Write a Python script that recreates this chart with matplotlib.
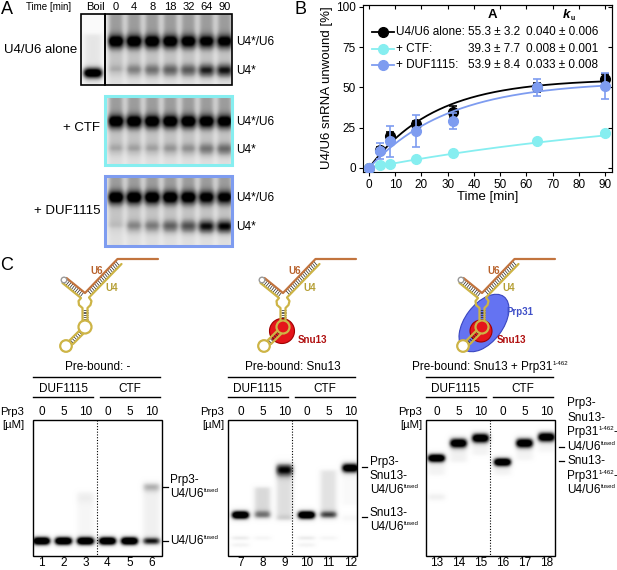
import numpy as np
import matplotlib
matplotlib.use('agg')
import matplotlib.pyplot as plt
from matplotlib.patches import Rectangle, Circle, Ellipse
from matplotlib.collections import LineCollection

plt.rcParams['font.family'] = ['Liberation Sans', 'DejaVu Sans']

# ---------------- panel A : gel band strengths (0 = none, 1 = black)
time_lanes = ['0', '4', '8', '18', '32', '64', '90']
duplex_alone = [0.8, 0.8, 0.8, 0.78, 0.76, 0.72, 0.72]
single_alone = [0.12, 0.28, 0.34, 0.4, 0.43, 0.62, 0.66]
duplex_ctf = [0.8, 0.8, 0.8, 0.8, 0.8, 0.78, 0.76]
single_ctf = [0.14, 0.16, 0.16, 0.2, 0.22, 0.32, 0.36]
duplex_duf = [0.8, 0.8, 0.8, 0.8, 0.78, 0.72, 0.7]
single_duf = [0.06, 0.26, 0.3, 0.4, 0.46, 0.68, 0.72]
boil_single = 1.1

# ---------------- panel B : unwinding time course
time_min = [0, 4, 8, 18, 32, 64, 90]
alone = [0, 11, 20, 27, 35, 50, 55.5]
alone_err = [0, 2, 2.5, 2, 3.5, 3, 3]
ctf = [0, 2, 2.5, 5.5, 9.5, 16.5, 21.5]
ctf_err = [0, 0.5, 0.5, 0.8, 1, 1, 1.5]
duf = [0, 10.5, 16.5, 23, 29, 50, 51]
duf_err = [0, 5, 9.5, 10, 5, 5, 8]
series_names = ['U4/U6 alone:', '+ CTF:', '+ DUF1115:']
fit_A = [55.3, 39.3, 53.9]
fit_A_err = [3.2, 7.7, 8.4]
fit_k = [0.040, 0.008, 0.033]
fit_k_err = [0.006, 0.001, 0.008]

# ---------------- panel C : EMSA gels
prp3_conc = ['0', '5', '10', '0', '5', '10']
# bands: (lane, migration from gel top [px], strength, width)
gel1_bands = [(0, 121, 1.5, 3.0), (1, 121, 1.5, 3.0), (2, 121, 1.5, 3.0), (3, 121, 1.5, 3.0),
              (4, 121, 1.5, 3.0), (5, 121, 0.95, 2.8), (5, 67, 0.3, 3.5), (2, 78, 0.07, 4)]
gel1_smears = [(2, 72, 116, 0.07), (5, 64, 116, 0.12)]
gel2_bands = [(0, 95, 1.5, 3.0), (0, 118, 0.15, 1.5), (0, 125, 0.1, 1.5),
              (1, 95, 0.6, 2.8), (1, 118, 0.08, 1.5),
              (2, 50, 0.8, 4.5), (2, 98, 0.1, 2.5),
              (3, 95, 1.5, 3.0), (3, 118, 0.15, 1.5), (3, 125, 0.1, 1.5),
              (4, 95, 0.65, 2.8), (4, 118, 0.08, 1.5),
              (5, 48, 1.3, 3.5), (5, 98, 0.07, 2.5)]
gel2_smears = [(1, 67, 93, 0.25), (2, 44, 100, 0.22), (4, 50, 96, 0.2), (5, 52, 85, 0.05)]
gel3_bands = [(0, 38, 1.4, 3.0), (0, 77, 0.12, 2.5), (1, 23, 1.3, 3.5), (2, 18, 1.3, 3.5),
              (3, 42, 1.4, 3.0), (4, 23, 1.3, 3.5), (5, 17, 1.3, 3.5)]
gel3_smears = [(0, 38, 55, 0.1), (1, 23, 42, 0.12), (2, 18, 35, 0.1),
               (3, 42, 55, 0.1), (4, 23, 40, 0.1), (5, 17, 32, 0.08)]


def gel_image(x0, y0, w, h, lane_x, bands, smears, base=0.0, bw=8.0, res=3):
    xs = x0 + (np.arange(int(w * res)) + 0.5) / res
    ys = y0 + (np.arange(int(h * res)) + 0.5) / res
    X, Y = np.meshgrid(xs, ys)
    img = np.full(X.shape, base)
    for lane, yc, amp, sig in bands:
        img += amp * np.exp(-((X - lane_x[lane]) / bw) ** 4) * np.exp(-0.5 * ((Y - y0 - yc) / sig) ** 2)
    for lane, ya, yb, amp in smears:
        prof = 0.5 * (np.tanh((Y - y0 - ya) / 2.0) - np.tanh((Y - y0 - yb) / 2.0))
        img += amp * np.exp(-((X - lane_x[lane]) / bw) ** 4) * prof
    return np.clip(img, 0, 1)


fig = plt.figure(figsize=(6.17, 5.70), dpi=100)
cv = fig.add_axes([0, 0, 1, 1])
cv.set_xlim(0, 617)
cv.set_ylim(570, 0)
cv.axis('off')
renderer = fig.canvas.get_renderer()


def seg_text(x, y, segs, fs, ha='left', **kw):
    # segs: list of (string, is_superscript)
    objs = []
    for s, sup in segs:
        f = fs * 0.52 if sup else fs
        objs.append(cv.text(0, y - (3.6 if sup else 0), s, fontsize=f, ha='left', va='center', **kw))
    widths = [o.get_window_extent(renderer).width for o in objs]
    total = sum(widths)
    start = x - total / 2 if ha == 'center' else (x - total if ha == 'right' else x)
    for o, wd in zip(objs, widths):
        o.set_x(start)
        start += wd


# ================= panel A
cv.text(7, 10, 'A', fontsize=13, ha='center', va='center')
cv.text(26, 7, 'Time [min]', fontsize=7, ha='left', va='center')
cv.text(95, 7, 'Boil', fontsize=8, ha='center', va='center')
laneA = [116 + i * 18.1 for i in range(7)]
for x, t in zip(laneA, time_lanes):
    cv.text(x, 7, t, fontsize=8, ha='center', va='center')

gelsA = [(14, 71, duplex_alone, single_alone, 28, 57, 'black', 'U4/U6 alone', 77, 50),
         (96, 69, duplex_ctf, single_ctf, 26, 54, '#86eef0', '+ CTF', 100, 128),
         (176, 70, duplex_duf, single_duf, 22, 51, '#7e9cf0', '+ DUF1115', 100, 211)]
for y0, h, dup, sgl, yd, ys_, col, name, tx, ty in gelsA:
    bands = []
    smears = []
    for i in range(7):
        bands.append((i, yd, dup[i], 4.8))
        bands.append((i, ys_, sgl[i], 4.5))
        smears.append((i, -3, yd, 0.26))
        smears.append((i, yd, ys_, 0.12))
        smears.append((i, -5, h + 5, 0.1))
    img = gel_image(105, y0, 127, h, laneA, bands, smears, base=0.12, bw=8.4)
    cv.imshow(img, cmap='Greys', vmin=0, vmax=1, extent=(105, 232, y0 + h, y0),
              aspect='auto', interpolation='bilinear', zorder=1)
    lw = 1.2 if col == 'black' else 2.2
    cv.add_patch(Rectangle((105, y0), 127, h, fill=False, ec=col, lw=lw, zorder=3))
    cv.text(236, y0 + yd, 'U4*/U6', fontsize=8.5, ha='left', va='center')
    cv.text(236, y0 + ys_, 'U4*', fontsize=8.5, ha='left', va='center')
    cv.text(tx, ty, name, fontsize=9.5, ha='right', va='center')

img = gel_image(81, 14, 24, 71, [93], [(0, 59, boil_single, 3.8)], [(0, 20, 71, 0.14)],
                base=0.04, bw=10)
cv.imshow(img, cmap='Greys', vmin=0, vmax=1, extent=(81, 105, 85, 14),
          aspect='auto', interpolation='bilinear', zorder=1)
cv.add_patch(Rectangle((81, 14), 24, 71, fill=False, ec='black', lw=1.2, zorder=3))

# ================= panel B
cv.text(300, 10, 'B', fontsize=13, ha='center', va='center')
axB = fig.add_axes([363 / 617, (570 - 172) / 570, 249 / 617, 167 / 570])
cols = ['#000000', '#86eef0', '#7e9cf0']
data = [(alone, alone_err), (ctf, ctf_err), (duf, duf_err)]
tt = np.linspace(0, 90, 200)
for j in [1, 0, 2]:
    y, e = data[j]
    axB.plot(tt, fit_A[j] * (1 - np.exp(-fit_k[j] * tt)), color=cols[j], lw=1.3, zorder=2 + j)
    axB.errorbar(time_min, y, yerr=e, fmt='o', color=cols[j], ms=7, lw=1.2,
                 capsize=3, capthick=1.2, zorder=3 + j)
axB.set_xlim(-2.3, 92.7)
axB.set_ylim(-2.5, 101.2)
axB.set_xticks(range(0, 91, 10))
axB.set_yticks([0, 25, 50, 75, 100])
axB.tick_params(labelsize=8.5, length=3, width=0.8, pad=2)
for s in axB.spines.values():
    s.set_linewidth(0.8)
sx = axB.secondary_xaxis('top')
sx.set_xticks(range(0, 91, 10))
sx.tick_params(direction='in', labeltop=False, length=3, width=0.8)
sy = axB.secondary_yaxis('right')
sy.set_yticks([0, 25, 50, 75, 100])
sy.tick_params(direction='in', labelright=False, length=3, width=0.8)

cv.text(488, 197, 'Time [min]', fontsize=9.5, ha='center', va='center')
cv.text(327, 88, 'U4/U6 snRNA unwound [%]', fontsize=9.5, ha='center', va='center', rotation=90)

# legend table
tr = axB.transAxes
rows = [0.838, 0.737, 0.641]
axB.text(0.522, 0.94, 'A', transform=tr, fontsize=9.5, weight='bold', ha='center', va='center')
axB.text(0.818, 0.94, 'k', transform=tr, fontsize=9.5, weight='bold', style='italic', ha='center', va='center')
axB.text(0.835, 0.922, 'u', transform=tr, fontsize=5, weight='bold', ha='left', va='center')
for j in range(3):
    yy = rows[j]
    axB.plot([0.036, 0.124], [yy, yy], color=cols[j], lw=1.3, transform=tr, clip_on=False)
    axB.plot([0.08], [yy], 'o', color=cols[j], ms=7, transform=tr, clip_on=False)
    axB.text(0.133, yy, series_names[j], transform=tr, fontsize=8.5, ha='left', va='center')
    axB.text(0.528, yy, '%.1f ± %.1f' % (fit_A[j], fit_A_err[j]), transform=tr,
             fontsize=8.5, ha='center', va='center')
    axB.text(0.8, yy, '%.3f ± %.3f' % (fit_k[j], fit_k_err[j]), transform=tr,
             fontsize=8.5, ha='center', va='center')

# ================= panel C
cv.text(7, 266, 'C', fontsize=13, ha='center', va='center')

brown = '#c2743e'
yellow = '#cdb446'


def rungs(a0, a1, b0, b1, n):
    t = np.linspace(0.08, 0.94, n)
    a0, a1, b0, b1 = map(np.array, (a0, a1, b0, b1))
    return [[a0 + (a1 - a0) * s, b0 + (b1 - b0) * s] for s in t]


def rna(dx, snu13=False, prp31=False):
    def P(pts):
        return [(x + dx, y) for x, y in pts]
    if prp31:
        cv.add_patch(Ellipse((87 + dx, 323), 66, 38, angle=-53, fc='#6473f2', ec='#3a46c0', lw=0.8, zorder=4))
    if snu13:
        r = 11 if prp31 else 12.5
        cv.add_patch(Circle((84 + dx, 331), r, fc='#e5141b', ec='#a00000', lw=0.8, zorder=5))
    segs = []
    segs += rungs((66.5, 278), (85, 293), (62.5, 283), (81, 298), 10)
    segs += rungs((85, 293), (117.5, 259), (89, 297.5), (121.5, 264), 18)
    segs += rungs((82.5, 309), (82.5, 321), (87.5, 309), (87.5, 321), 7)
    segs += rungs((79.5, 330.5), (69.5, 340.5), (83, 334), (73, 344), 6)
    segs = [[(p[0] + dx, p[1]) for p in s] for s in segs]
    cv.add_collection(LineCollection(segs, colors='#222222', lw=0.5, zorder=6))
    kw = dict(lw=1.6, solid_capstyle='round', solid_joinstyle='round', zorder=7)
    xy = P([(66.5, 278), (85, 293), (117.5, 259), (158, 259)])
    cv.plot(*zip(*xy), color=brown, **kw)
    xy = P([(62.5, 283), (81, 298), (78.5, 301), (79, 305), (82.5, 308), (82.5, 321)])
    cv.plot(*zip(*xy), color=yellow, **kw)
    xy = P([(121.5, 264), (89, 297.5), (91.5, 301), (90.5, 305), (87.5, 308), (87.5, 321)])
    cv.plot(*zip(*xy), color=yellow, **kw)
    xy = P([(79.5, 330.5), (69.5, 340.5)])
    cv.plot(*zip(*xy), color=yellow, **kw)
    xy = P([(83, 334), (73, 344)])
    cv.plot(*zip(*xy), color=yellow, **kw)
    cv.add_patch(Circle((85 + dx, 327), 6.5, fc='none' if snu13 else 'white', ec=yellow, lw=1.6, zorder=6.5))
    cv.add_patch(Circle((66 + dx, 346), 5.8, fc='white', ec=yellow, lw=1.6, zorder=6.5))
    cv.add_patch(Circle((64 + dx, 280), 2.8, fc='white', ec='#9a9a9a', lw=1.0, zorder=8))
    cv.text(97 + dx, 271, 'U6', color='#b8622c', fontsize=7, weight='bold', ha='center', va='center', zorder=9)
    cv.text(112 + dx, 288, 'U4', color='#b59f35', fontsize=7, weight='bold', ha='center', va='center', zorder=9)
    if snu13:
        cv.text(100 + dx, 340, 'Snu13', color='#b01010', fontsize=7, weight='bold', ha='left', va='center', zorder=9)
    if prp31:
        cv.text(109 + dx, 312, 'Prp31', color='#4050c8', fontsize=7, weight='bold', ha='left', va='center', zorder=9)


rna(0)
rna(198, snu13=True)
rna(397, snu13=True, prp31=True)

prebound = [[('Pre-bound: -', False)], [('Pre-bound: Snu13', False)],
            [('Pre-bound: Snu13 + Prp31', False), ('1-462', True)]]
gelsC = [(33, 8.5, 24, gel1_bands, gel1_smears),
         (228, 12.5, 224, gel2_bands, gel2_smears),
         (426, 10.5, 422, gel3_bands, gel3_smears)]
gw, gy0, gh = 129, 420, 136
for g, (x0, off, px, bands, smears) in enumerate(gelsC):
    lane_x = [x0 + off + j * 22 for j in range(6)]
    mid = x0 + 64
    x1 = x0 + gw
    img = gel_image(x0, gy0, gw, gh, lane_x, bands, smears, base=0.0, bw=9.0)
    cv.imshow(img, cmap='Greys', vmin=0, vmax=1, extent=(x0, x1, gy0 + gh, gy0),
              aspect='auto', interpolation='bilinear', zorder=1)
    cv.add_patch(Rectangle((x0, gy0), gw, gh, fill=False, ec='black', lw=1.0, zorder=3))
    cv.plot([mid, mid], [gy0, gy0 + gh], color='black', lw=0.8, ls=(0, (1, 1.5)), zorder=3)
    seg_text((x0 + x1) / 2, 367, prebound[g], 8.5, ha='center')
    cv.plot([x0, x1 - 2], [377, 377], color='black', lw=1.0)
    cv.plot([x0, mid - 4], [397, 397], color='black', lw=1.0)
    cv.plot([mid + 3, x1 - 2], [397, 397], color='black', lw=1.0)
    cv.text((x0 + mid - 4) / 2, 389, 'DUF1115', fontsize=8.5, ha='center', va='center')
    cv.text((mid + 3 + x1 - 2) / 2, 389, 'CTF', fontsize=8.5, ha='center', va='center')
    cv.text(px, 412, 'Prp3', fontsize=8.2, ha='right', va='center')
    cv.text(px, 425, '[µM]', fontsize=8.2, ha='right', va='center')
    for j in range(6):
        cv.text(lane_x[j], 412, prp3_conc[j], fontsize=8.5, ha='center', va='center')
        cv.text(lane_x[j], 563, str(6 * g + j + 1), fontsize=8.5, ha='center', va='center')

fused = [('U4/U6', False), ('fused', True)]
prp31s = [('Prp31', False), ('1-462', True), ('-', False)]
right_labels = [
    (163, 487, 170, [([('Prp3-', False)], 480), (fused, 494)]),
    (163, 541, 170, [(fused, 541)]),
    (362, 467, 370, [([('Prp3-', False)], 462), ([('Snu13-', False)], 476), (fused, 490)]),
    (362, 517, 370, [([('Snu13-', False)], 513), (fused, 527)]),
    (559, 447, 567, [([('Prp3-', False)], 403), ([('Snu13-', False)], 418), (prp31s, 432), (fused, 447)]),
    (559, 461, 567, [([('Snu13-', False)], 461), (prp31s, 476), (fused, 490)]),
]
for tx, ty, lx, lines in right_labels:
    cv.plot([tx, tx + 5], [ty, ty], color='black', lw=0.9)
    for segs, y in lines:
        seg_text(lx, y, segs, 8.5)

fig.savefig('out.png', dpi=100)
